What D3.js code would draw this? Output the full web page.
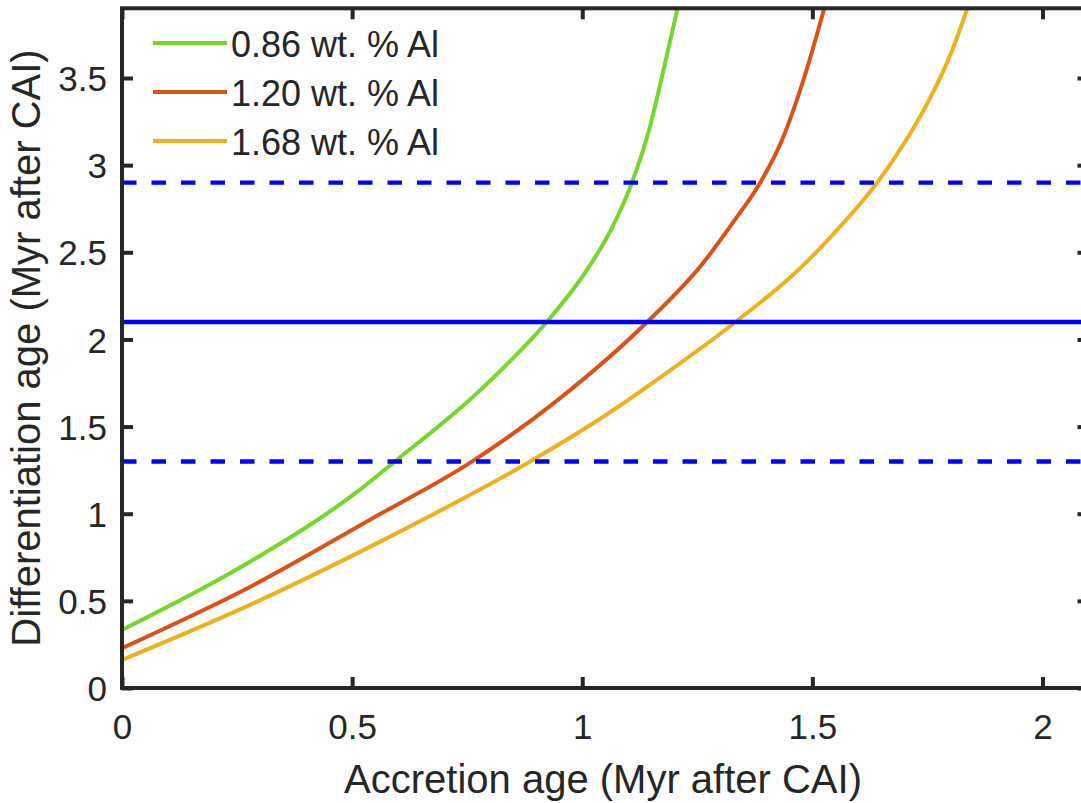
<!DOCTYPE html>
<html>
<head>
<meta charset="utf-8">
<script src="https://cdn.jsdelivr.net/npm/d3@7"></script>
<style>
  html, body { margin: 0; padding: 0; background: #fff; }
  svg text { font-family: "Liberation Sans", Arial, Helvetica, sans-serif; fill: #262626; }
</style>
</head>
<body>
<svg id="chart" width="1081" height="803"></svg>
<script>
// Tick values
const xTickValues = [0, 0.5, 1, 1.5, 2];
const yTickValues = [0, 0.5, 1, 1.5, 2, 2.5, 3, 3.5];

// Accretion age (Myr after CAI) vs differentiation age, per Al content
const accretion086 = [0, 0.278, 0.517, 0.593, 0.758, 0.826, 0.923, 1.011, 1.063, 1.108, 1.145, 1.177, 1.207];
const differentiation086 = [0.333, 0.724, 1.138, 1.3, 1.66, 1.83, 2.1, 2.402, 2.632, 2.9, 3.2, 3.55, 3.9];

const accretion120 = [0, 0.278, 0.539, 0.761, 0.948, 1.141, 1.26, 1.33, 1.387, 1.435, 1.482, 1.526];
const differentiation120 = [0.229, 0.58, 0.966, 1.3, 1.655, 2.1, 2.43, 2.68, 2.9, 3.15, 3.5, 3.9];

const accretion168 = [0, 0.278, 0.561, 0.887, 1.039, 1.163, 1.333, 1.47, 1.555, 1.641, 1.705, 1.755, 1.805, 1.837];
const differentiation168 = [0.161, 0.477, 0.84, 1.3, 1.545, 1.77, 2.1, 2.4, 2.632, 2.9, 3.149, 3.38, 3.667, 3.9];

const seriesLabels = ["0.86 wt. % Al", "1.20 wt. % Al", "1.68 wt. % Al"];
const seriesColors = ["#77d62e", "#d95319", "#edb120"];

// Reference differentiation ages: central value and bounds
const referenceAges = [1.3, 2.1, 2.9];
const referenceDashed = [true, false, true];

const svg = d3.select("#chart");

const x = d3.scaleLinear().domain([0, 2.1]).range([122, 1088.5]);
const y = d3.scaleLinear().domain([0, 3.9]).range([688, 8.3]);

const axisColor = "#262626";

svg.append("defs").append("clipPath").attr("id", "plotArea")
  .append("rect")
  .attr("x", x(0)).attr("y", y(3.9))
  .attr("width", x(2.1) - x(0)).attr("height", y(0) - y(3.9));

const plot = svg.append("g").attr("clip-path", "url(#plotArea)");

const series = [
  { xs: accretion086, ys: differentiation086 },
  { xs: accretion120, ys: differentiation120 },
  { xs: accretion168, ys: differentiation168 }
];

const line = d3.line()
  .x(d => x(d[0]))
  .y(d => y(d[1]))
  .curve(d3.curveMonotoneX);

series.forEach((s, i) => {
  plot.append("path")
    .datum(d3.zip(s.xs, s.ys))
    .attr("d", line)
    .attr("fill", "none")
    .attr("stroke", seriesColors[i])
    .attr("stroke-width", 4)
    .attr("stroke-linejoin", "round");
});

referenceAges.forEach((v, i) => {
  plot.append("line")
    .attr("x1", x(0)).attr("x2", x(2.1))
    .attr("y1", y(v)).attr("y2", y(v))
    .attr("stroke", "#0000ff")
    .attr("stroke-width", 4.4)
    .attr("stroke-dasharray", referenceDashed[i] ? "14.5,15" : null);
});

// Axes with inward ticks on all four sides
const tickLen = 11;
const styleAxis = g => {
  g.select(".domain").remove();
  g.selectAll(".tick line").attr("stroke", axisColor).attr("stroke-width", 4);
  g.selectAll(".tick text").attr("fill", axisColor).style("font-size", "35px");
};

svg.append("g")
  .attr("transform", `translate(0,${y(0)})`)
  .call(d3.axisBottom(x).tickValues(xTickValues).tickFormat(d3.format("")).tickSize(-tickLen).tickPadding(26))
  .call(styleAxis);

svg.append("g")
  .attr("transform", `translate(0,${y(3.9)})`)
  .call(d3.axisTop(x).tickValues(xTickValues).tickFormat("").tickSize(-tickLen))
  .call(styleAxis);

svg.append("g")
  .attr("transform", `translate(${x(0)},0)`)
  .call(d3.axisLeft(y).tickValues(yTickValues).tickFormat(d3.format("")).tickSize(-tickLen).tickPadding(15))
  .call(styleAxis)
  .call(g => g.selectAll(".tick text").attr("dy", "0.36em"));

svg.append("g")
  .attr("transform", `translate(${x(2.1)},0)`)
  .call(d3.axisRight(y).tickValues(yTickValues).tickFormat("").tickSize(-tickLen))
  .call(styleAxis);

svg.append("rect")
  .attr("x", x(0)).attr("y", y(3.9))
  .attr("width", x(2.1) - x(0)).attr("height", y(0) - y(3.9))
  .attr("fill", "none")
  .attr("stroke", axisColor)
  .attr("stroke-width", 4);

// Axis titles
svg.append("text")
  .attr("x", 603).attr("y", 793)
  .attr("text-anchor", "middle")
  .style("font-size", "40px")
  .text("Accretion age (Myr after CAI)");

svg.append("text")
  .attr("transform", "translate(40,348) rotate(-90)")
  .attr("text-anchor", "middle")
  .style("font-size", "40px")
  .text("Differentiation age (Myr after CAI)");

// Legend
const legend = svg.append("g");
seriesLabels.forEach((label, i) => {
  const ly = 43 + i * 49;
  legend.append("line")
    .attr("x1", 153).attr("x2", 227)
    .attr("y1", ly).attr("y2", ly)
    .attr("stroke", seriesColors[i])
    .attr("stroke-width", 4);
  legend.append("text")
    .attr("x", 231).attr("y", ly + 14)
    .style("font-size", "36px")
    .text(label);
});
</script>
</body>
</html>
